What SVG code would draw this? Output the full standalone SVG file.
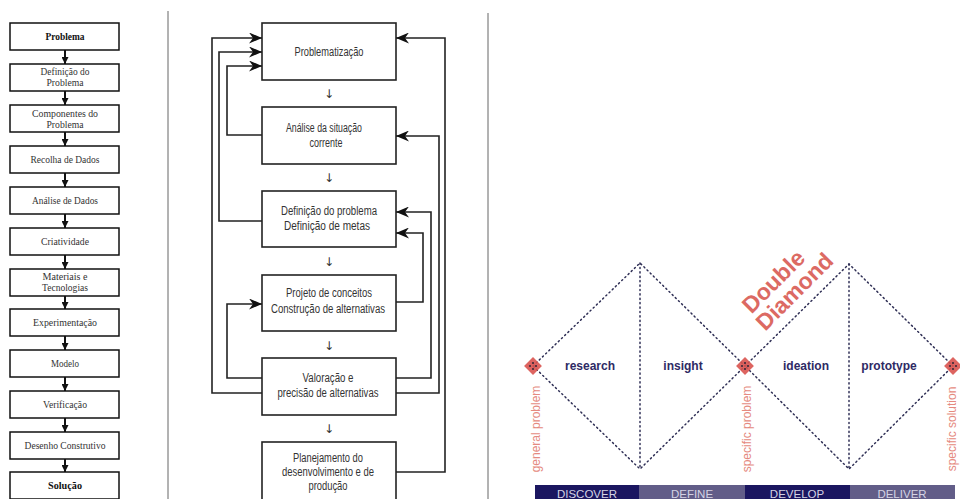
<svg xmlns="http://www.w3.org/2000/svg" width="960" height="499" viewBox="0 0 960 499">
<style>
.lbox{fill:#fff;stroke:#111;stroke-width:1.5}
.lt{font-family:"Liberation Serif","DejaVu Serif",serif;font-size:10px;fill:#333;text-anchor:middle}
.lb{font-weight:bold;fill:#111}
.mbox{fill:#fff;stroke:#222;stroke-width:1.6}
.mt{font-family:"Liberation Sans",sans-serif;font-size:12px;fill:#333;text-anchor:middle}
.ar{font-family:"DejaVu Sans",sans-serif;font-size:12px;fill:#333;text-anchor:middle}
.la{stroke:#111;stroke-width:2;fill:none}
.ml{stroke:#222;stroke-width:1.6;fill:none}
.sep{stroke:#666;stroke-width:1}
.dot{stroke:#2f2f55;stroke-width:1.5;fill:none;stroke-dasharray:1.2 3.2;stroke-linecap:round}
.dl{font-family:"Liberation Sans",Arial,sans-serif;font-size:12px;font-weight:bold;fill:#2e2a64;text-anchor:middle}
.vl{font-family:"Liberation Sans",Arial,sans-serif;font-size:12px;fill:#e58a80;text-anchor:middle}
.bt{font-family:"Liberation Sans",Arial,sans-serif;font-size:11.5px;fill:#d4d3e4;text-anchor:middle}
.dd{font-family:"Liberation Sans",Arial,sans-serif;font-size:23px;font-weight:bold;fill:#dc6a63;text-anchor:middle}
</style>
<defs>
<marker id="sa" markerUnits="userSpaceOnUse" markerWidth="7" markerHeight="7" refX="7" refY="3.5" orient="auto">
<path d="M0,0 L7,3.5 L0,7 z" fill="#111"/>
</marker>
<marker id="ba" markerUnits="userSpaceOnUse" markerWidth="14" markerHeight="11" refX="13" refY="5.5" orient="auto">
<path d="M0,0 L13,5.5 L0,11 L4,5.5 z" fill="#111"/>
</marker>
<g id="rn">
<rect x="-6.3" y="-6.3" width="12.6" height="12.6" transform="rotate(45)" fill="#d9534f" opacity="0.9"/>
<circle cx="-3" cy="0" r="1.1" fill="#3a2a3a"/>
<circle cx="3" cy="0" r="1.1" fill="#3a2a3a"/>
<circle cx="0" cy="-3" r="1.1" fill="#3a2a3a"/>
<circle cx="0" cy="3" r="1.1" fill="#3a2a3a"/>
</g>
</defs>
<rect width="960" height="499" fill="#fff"/>
<line class="sep" x1="168" y1="11" x2="168" y2="499"/>
<line class="sep" x1="488" y1="13" x2="488" y2="499"/>

<!-- Left column -->
<g id="l1"><rect class="lbox" x="10" y="23" width="109" height="27"/><text class="lt lb" x="65" y="40" textLength="39" lengthAdjust="spacingAndGlyphs">Problema</text></g>
<g id="l2"><rect class="lbox" x="10" y="64" width="109" height="27"/><text class="lt" x="65" y="75" textLength="49" lengthAdjust="spacingAndGlyphs">Definição do</text><text class="lt" x="65" y="86" textLength="37" lengthAdjust="spacingAndGlyphs">Problema</text></g>
<g id="l3"><rect class="lbox" x="10" y="105" width="109" height="27"/><text class="lt" x="65" y="117" textLength="66" lengthAdjust="spacingAndGlyphs">Componentes do</text><text class="lt" x="65" y="128" textLength="37" lengthAdjust="spacingAndGlyphs">Problema</text></g>
<g id="l4"><rect class="lbox" x="10" y="146" width="109" height="27"/><text class="lt" x="65" y="163" textLength="69" lengthAdjust="spacingAndGlyphs">Recolha de Dados</text></g>
<g id="l5"><rect class="lbox" x="10" y="187" width="109" height="27"/><text class="lt" x="65" y="204" textLength="66" lengthAdjust="spacingAndGlyphs">Análise de Dados</text></g>
<g id="l6"><rect class="lbox" x="10" y="228" width="109" height="27"/><text class="lt" x="65" y="245" textLength="48" lengthAdjust="spacingAndGlyphs">Criatividade</text></g>
<g id="l7"><rect class="lbox" x="10" y="269" width="109" height="27"/><text class="lt" x="65" y="280" textLength="45" lengthAdjust="spacingAndGlyphs">Materiais e</text><text class="lt" x="65" y="291" textLength="46" lengthAdjust="spacingAndGlyphs">Tecnologias</text></g>
<g id="l8"><rect class="lbox" x="10" y="309" width="109" height="27"/><text class="lt" x="65" y="326" textLength="64" lengthAdjust="spacingAndGlyphs">Experimentação</text></g>
<g id="l9"><rect class="lbox" x="10" y="350" width="109" height="27"/><text class="lt" x="65" y="367" textLength="28" lengthAdjust="spacingAndGlyphs">Modelo</text></g>
<g id="l10"><rect class="lbox" x="10" y="391" width="109" height="27"/><text class="lt" x="65" y="408" textLength="44" lengthAdjust="spacingAndGlyphs">Verificação</text></g>
<g id="l11"><rect class="lbox" x="10" y="432" width="109" height="27"/><text class="lt" x="65" y="449" textLength="81" lengthAdjust="spacingAndGlyphs">Desenho Construtivo</text></g>
<g id="l12"><rect class="lbox" x="10" y="472" width="109" height="27"/><text class="lt lb" x="65" y="489" textLength="34" lengthAdjust="spacingAndGlyphs">Solução</text></g>

<!-- Middle column -->
<g id="m1"><rect class="mbox" x="262" y="23" width="134" height="57"/><text class="mt" x="329" y="56" textLength="69" lengthAdjust="spacingAndGlyphs">Problematização</text></g>
<g id="m2"><rect class="mbox" x="262" y="107" width="134" height="57"/><text class="mt" x="324" y="132" textLength="76" lengthAdjust="spacingAndGlyphs">Análise da situação</text><text class="mt" x="326" y="147" textLength="33" lengthAdjust="spacingAndGlyphs">corrente</text></g>
<g id="m3"><rect class="mbox" x="262" y="191" width="134" height="56"/><text class="mt" x="329" y="215" textLength="96" lengthAdjust="spacingAndGlyphs">Definição do problema</text><text class="mt" x="327" y="230" textLength="86" lengthAdjust="spacingAndGlyphs">Definição de metas</text></g>
<g id="m4"><rect class="mbox" x="262" y="275" width="134" height="56"/><text class="mt" x="329" y="297" textLength="86" lengthAdjust="spacingAndGlyphs">Projeto de conceitos</text><text class="mt" x="328" y="313" textLength="114" lengthAdjust="spacingAndGlyphs">Construção de alternativas</text></g>
<g id="m5"><rect class="mbox" x="262" y="358" width="134" height="57"/><text class="mt" x="328" y="382" textLength="51" lengthAdjust="spacingAndGlyphs">Valoração e</text><text class="mt" x="328" y="397" textLength="101" lengthAdjust="spacingAndGlyphs">precisão de alternativas</text></g>
<g id="m6"><rect class="mbox" x="262" y="442" width="134" height="60"/><text class="mt" x="328" y="462" textLength="70" lengthAdjust="spacingAndGlyphs">Planejamento do</text><text class="mt" x="328" y="476" textLength="92" lengthAdjust="spacingAndGlyphs">desenvolvimento e de</text><text class="mt" x="328" y="490" textLength="39" lengthAdjust="spacingAndGlyphs">produção</text></g>

<g id="connectors">
<line class="la" x1="65" y1="50" x2="65" y2="64" marker-end="url(#sa)"/>
<line class="la" x1="65" y1="91" x2="65" y2="105" marker-end="url(#sa)"/>
<line class="la" x1="65" y1="132" x2="65" y2="146" marker-end="url(#sa)"/>
<line class="la" x1="65" y1="173" x2="65" y2="187" marker-end="url(#sa)"/>
<line class="la" x1="65" y1="214" x2="65" y2="228" marker-end="url(#sa)"/>
<line class="la" x1="65" y1="255" x2="65" y2="269" marker-end="url(#sa)"/>
<line class="la" x1="65" y1="296" x2="65" y2="309" marker-end="url(#sa)"/>
<line class="la" x1="65" y1="336" x2="65" y2="350" marker-end="url(#sa)"/>
<line class="la" x1="65" y1="377" x2="65" y2="391" marker-end="url(#sa)"/>
<line class="la" x1="65" y1="418" x2="65" y2="432" marker-end="url(#sa)"/>
<line class="la" x1="65" y1="459" x2="65" y2="472" marker-end="url(#sa)"/>
<text class="ar" x="329" y="98">↓</text>
<text class="ar" x="329" y="182">↓</text>
<text class="ar" x="329" y="266">↓</text>
<text class="ar" x="329" y="350">↓</text>
<text class="ar" x="329" y="433">↓</text>
<polyline class="ml" points="262,393 212,393 212,38 262,38" marker-end="url(#ba)"/>
<polyline class="ml" points="262,221 219,221 219,52 262,52" marker-end="url(#ba)"/>
<polyline class="ml" points="262,135 227,135 227,66 262,66" marker-end="url(#ba)"/>
<polyline class="ml" points="262,378 227,378 227,304 262,304" marker-end="url(#ba)"/>
<polyline class="ml" points="396,472 445,472 445,38 396,38" marker-end="url(#ba)"/>
<polyline class="ml" points="396,393 439,393 439,136 396,136" marker-end="url(#ba)"/>
<polyline class="ml" points="396,378 431,378 431,212 396,212" marker-end="url(#ba)"/>
<polyline class="ml" points="396,302 423,302 423,233 396,233" marker-end="url(#ba)"/>
<path class="dot" d="M533,366 L640,263 L745,366 L640,469 Z"/>
<line class="dot" x1="640" y1="263" x2="640" y2="469"/>
<path class="dot" d="M745,366 L849,264 L953,366 L849,469 Z"/>
<line class="dot" x1="849" y1="264" x2="849" y2="469"/>
</g>

<g id="n1"><use href="#rn" x="533" y="366"/></g>
<g id="n2"><use href="#rn" x="745" y="366"/></g>
<g id="n3"><use href="#rn" x="953" y="366"/></g>
<g id="labels">
<text class="dl" x="590" y="370">research</text>
<text class="dl" x="683" y="370">insight</text>
<text class="dl" x="806" y="370">ideation</text>
<text class="dl" x="889" y="370">prototype</text>
<text class="vl" transform="translate(540,429) rotate(-90)">general problem</text>
<text class="vl" transform="translate(751,429) rotate(-90)">specific problem</text>
<text class="vl" transform="translate(956,429) rotate(-90)">specific solution</text>
<text class="dd" transform="translate(779,287) rotate(-45)">Double</text>
<text class="dd" transform="translate(800,297) rotate(-45)">Diamond</text>
</g>
<g id="band">
<rect x="535" y="485" width="104" height="14" fill="#1b1660"/>
<rect x="639" y="485" width="106" height="14" fill="#625d88"/>
<rect x="745" y="485" width="105" height="14" fill="#1b1660"/>
<rect x="850" y="485" width="105" height="14" fill="#625d88"/>
<text class="bt" x="587" y="498">DISCOVER</text>
<text class="bt" x="692" y="498">DEFINE</text>
<text class="bt" x="797" y="498">DEVELOP</text>
<text class="bt" x="902" y="498">DELIVER</text>
</g>
</svg>
